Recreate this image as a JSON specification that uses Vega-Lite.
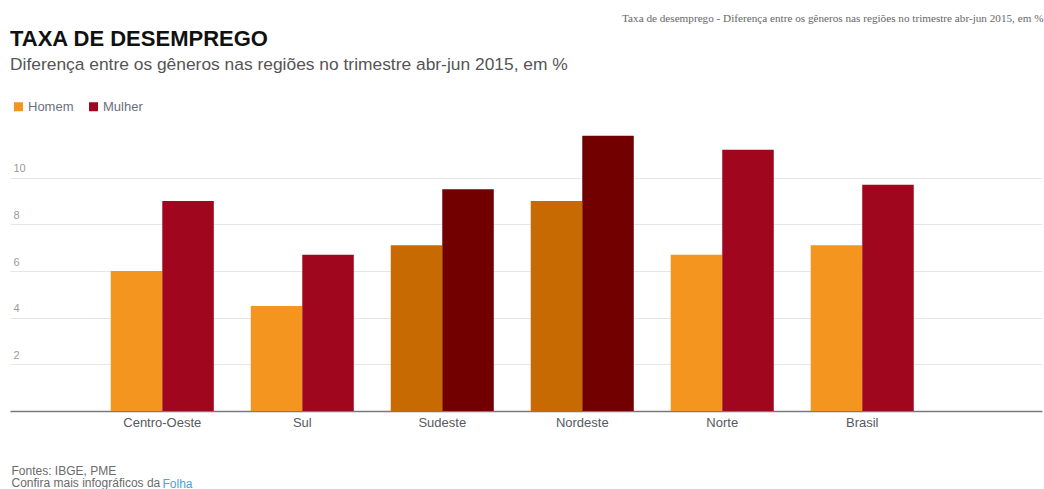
{
  "$schema": "https://vega.github.io/schema/vega-lite/v6.json",
  "width": 1032,
  "height": 280,
  "autosize": {"type": "none"},
  "padding": {"left": 10, "top": 131, "right": 2, "bottom": 78},
  "background": "white",
  "config": {
    "font": "Liberation Sans",
    "view": {"stroke": null}
  },
  "title": {
    "text": "TAXA DE DESEMPREGO",
    "subtitle": "Diferença entre os gêneros nas regiões no trimestre abr-jun 2015, em %",
    "anchor": "start",
    "frame": "group",
    "orient": "top",
    "font": "Liberation Sans",
    "fontSize": 22,
    "fontWeight": "bold",
    "color": "#111111",
    "subtitleFont": "Liberation Sans",
    "subtitleFontSize": 17.4,
    "subtitleColor": "#555555",
    "subtitlePadding": 5,
    "offset": -62
  },
  "data": {
    "values": [
      {"regiao": "Centro-Oeste", "genero": "Homem", "serie": "Homem", "taxa": 6.0},
      {"regiao": "Centro-Oeste", "genero": "Mulher", "serie": "Mulher", "taxa": 9.0},
      {"regiao": "Sul", "genero": "Homem", "serie": "Homem", "taxa": 4.5},
      {"regiao": "Sul", "genero": "Mulher", "serie": "Mulher", "taxa": 6.7},
      {"regiao": "Sudeste", "genero": "Homem", "serie": "Homem (destaque)", "taxa": 7.1},
      {"regiao": "Sudeste", "genero": "Mulher", "serie": "Mulher (destaque)", "taxa": 9.5},
      {"regiao": "Nordeste", "genero": "Homem", "serie": "Homem (destaque)", "taxa": 9.0},
      {"regiao": "Nordeste", "genero": "Mulher", "serie": "Mulher (destaque)", "taxa": 11.8},
      {"regiao": "Norte", "genero": "Homem", "serie": "Homem", "taxa": 6.7},
      {"regiao": "Norte", "genero": "Mulher", "serie": "Mulher", "taxa": 11.2},
      {"regiao": "Brasil", "genero": "Homem", "serie": "Homem", "taxa": 7.1},
      {"regiao": "Brasil", "genero": "Mulher", "serie": "Mulher", "taxa": 9.7}
    ]
  },
  "encoding": {
    "x": {
      "field": "regiao",
      "type": "nominal",
      "sort": null,
      "scale": {"paddingInner": 0.264, "paddingOuter": 0.818, "align": 0.44}
    },
    "xOffset": {
      "field": "genero",
      "type": "nominal",
      "scale": {"domain": ["Homem", "Mulher"], "paddingInner": 0, "paddingOuter": 0}
    },
    "y": {
      "field": "taxa",
      "type": "quantitative",
      "scale": {"domain": [0, 12], "nice": false}
    },
    "color": {
      "field": "serie",
      "type": "nominal",
      "scale": {
        "domain": ["Homem", "Mulher", "Homem (destaque)", "Mulher (destaque)"],
        "range": ["#F4951F", "#A1061F", "#C86A02", "#730000"]
      }
    }
  },
  "layer": [
    {
      "mark": {"type": "bar"},
      "encoding": {
        "x": {
          "field": "regiao",
          "type": "nominal",
          "sort": null,
          "axis": {
            "orient": "bottom",
            "domain": true,
            "domainColor": "#7a7a7a",
            "domainWidth": 1.5,
            "ticks": false,
            "labelAngle": 0,
            "labelFont": "Liberation Sans",
            "labelFontSize": 13,
            "labelColor": "#555a60",
            "labelPadding": 5,
            "title": ["Fontes: IBGE, PME", "Confira mais infográficos da"],
            "titleFont": "Liberation Sans",
            "titleFontSize": 12,
            "titleFontWeight": "normal",
            "titleColor": "#6a6a6a",
            "titleAnchor": "start",
            "titleAlign": "left",
            "titleBaseline": "top",
            "titleLineHeight": 12,
            "titleX": 1,
            "titleY": 54
          }
        },
        "y": {
          "field": "taxa",
          "type": "quantitative",
          "axis": {
            "orient": "left",
            "values": [2, 4, 6, 8, 10],
            "domain": false,
            "ticks": false,
            "tickSize": 0,
            "grid": true,
            "gridColor": "#e6e6e6",
            "gridWidth": 1,
            "labelAlign": "left",
            "labelBaseline": "bottom",
            "labelPadding": -3,
            "labelOffset": -4,
            "labelFont": "Liberation Sans",
            "labelFontSize": 11,
            "labelColor": "#9a9a9a",
            "title": null
          }
        },
        "color": {
          "field": "serie",
          "type": "nominal",
          "legend": {
            "orient": "none",
            "legendX": 2,
            "legendY": -31,
            "direction": "horizontal",
            "values": ["Homem", "Mulher"],
            "title": null,
            "symbolType": "square",
            "symbolSize": 81,
            "symbolStrokeWidth": 0,
            "labelFont": "Liberation Sans",
            "labelFontSize": 13,
            "labelColor": "#6a6f80",
            "labelOffset": 3,
            "columnPadding": 13
          }
        }
      }
    },
    {
      "mark": {"type": "bar", "opacity": 0},
      "encoding": {
        "x": {
          "field": "regiao",
          "type": "nominal",
          "sort": null,
          "axis": {
            "orient": "top",
            "domain": false,
            "ticks": false,
            "labels": false,
            "grid": false,
            "title": "Taxa de desemprego - Diferença entre os gêneros nas regiões no trimestre abr-jun 2015, em %",
            "titleFont": "Liberation Serif",
            "titleFontSize": 11.2,
            "titleFontWeight": "normal",
            "titleColor": "#666666",
            "titleAnchor": null,
            "titleAlign": "right",
            "titleBaseline": "middle",
            "titleAngle": 0,
            "titleX": 1033,
            "titleY": -113
          }
        },
        "y": {
          "field": "taxa",
          "type": "quantitative",
          "axis": {
            "orient": "right",
            "domain": false,
            "ticks": false,
            "labels": false,
            "grid": false,
            "title": "Folha",
            "titleFont": "Liberation Sans",
            "titleFontSize": 12,
            "titleFontWeight": "normal",
            "titleColor": "#4aa3df",
            "titleAngle": 0,
            "titleAnchor": null,
            "titleAlign": "left",
            "titleBaseline": "top",
            "titleX": -880,
            "titleY": 347
          }
        },
        "color": {"field": "serie", "type": "nominal", "legend": null}
      }
    }
  ],
  "resolve": {"axis": {"x": "independent", "y": "independent"}}
}
